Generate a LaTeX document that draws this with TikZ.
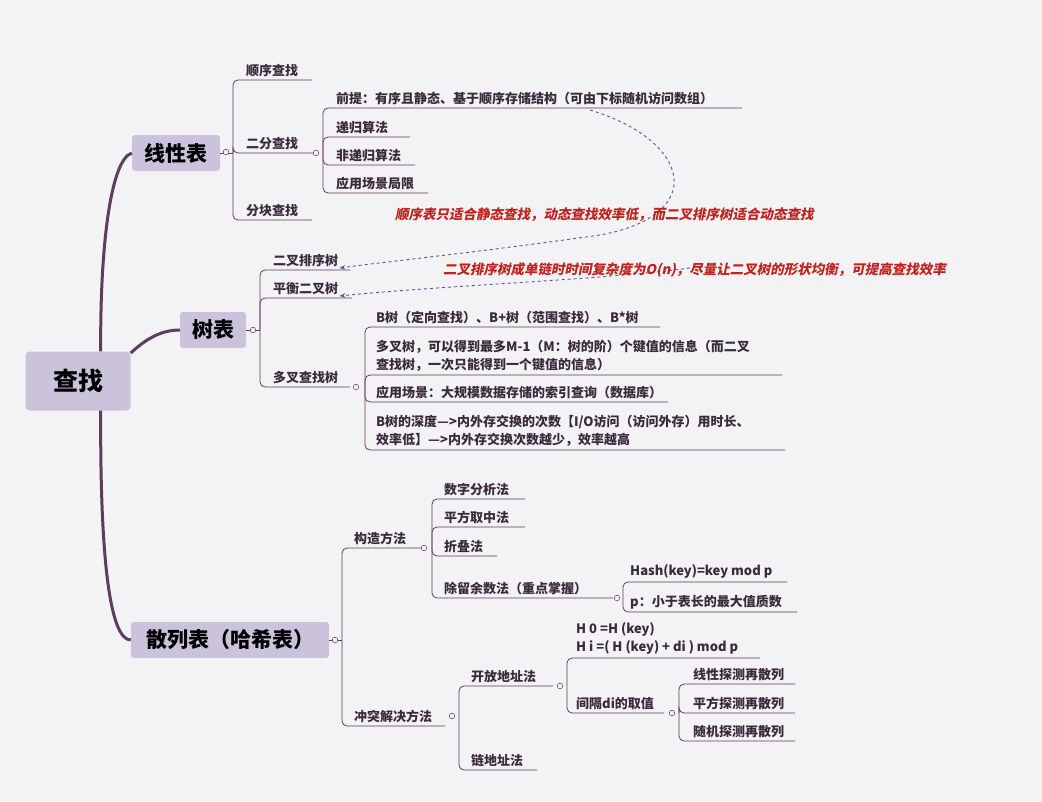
\documentclass[tikz,border=0pt]{standalone}
\usepackage{fontspec}
\setmainfont{Noto Sans CJK SC}
\newfontfamily\notefont{Noto Sans CJK SC}[FakeSlant=0.2]
\usetikzlibrary{arrows.meta}
\definecolor{bg}{HTML}{F3F2F4}
\definecolor{linec}{HTML}{5E3B60}
\definecolor{boxc}{HTML}{CBC3DC}
\definecolor{txt}{HTML}{3A2B3C}
\definecolor{notec}{HTML}{C0221F}
\definecolor{dashc}{HTML}{5A5799}
\tikzset{
  branch/.style={draw=linec, line width=0.8pt, rounded corners=5pt},
  trunk/.style={draw=linec, line width=3pt},
  leaf/.style={anchor=south west, inner sep=1pt, text=txt, font=\bfseries\fontsize{13}{18}\selectfont, align=left},
  topic/.style={fill=boxc, rounded corners=3pt, text=black, font=\bfseries\fontsize{21}{24}\selectfont, inner sep=5pt, minimum height=36pt},
  knob/.style={circle, draw=linec, fill=bg, line width=0.5pt, inner sep=2pt},
  note/.style={anchor=west, text=notec, font=\notefont\bfseries\fontsize{13.5}{15}\selectfont, inner sep=0},
  link/.style={draw=dashc, line width=0.9pt, dashed, -{Stealth[length=6pt]}}
}
% draw one child: bracket x, parent y, child underline y, underline end
\newcommand\kid[4]{\draw[branch] (#1,#2) |- (#4,#3);}
\begin{document}
\begin{tikzpicture}[x=1pt,y=-1pt]
\fill[bg] (0,0) rectangle (1042,801);
\useasboundingbox (0,0) rectangle (1042,801);

% root and main topics
\node[fill=boxc, rounded corners=4pt, minimum width=105pt, minimum height=59pt,
  font=\bfseries\fontsize{25}{28}\selectfont] (root) at (78,381) {查找};
\node[topic, minimum width=88pt] (linear) at (176,153) {线性表};
\node[topic, minimum width=66pt] (tree) at (213,330) {树表};
\node[topic, minimum width=198pt] (hash) at (230,640) {散列表（哈希表）};
\draw[trunk] (root.north east) ++(-30,0) .. controls (100,250) and (110,160) .. (linear.west);
\draw[trunk] (root.east) ++(0,-28) .. controls (145,340) and (160,330) .. (tree.west);
\draw[trunk] (root.south east) ++(-30,0) .. controls (100,560) and (110,640) .. (hash.west);

% linear table
\draw[branch] (linear.east) -- (233,153);
\kid{233}{153}{80}{312}
\kid{233}{153}{153}{316}
\kid{233}{153}{220}{312}
\node[knob] at (226,152) {};
\node[leaf] (seq) at (245,78) {顺序查找};
\node[leaf] (bin) at (245,151) {二分查找};
\node[leaf] (blk) at (245,218) {分块查找};
\foreach \y/\e/\t in {108/742/前提：有序且静态、基于顺序存储结构（可由下标随机访问数组）,
  137/410/递归算法, 165/415/非递归算法, 193/428/应用场景局限} {
  \kid{323}{153}{\y}{\e}
  \node[leaf] at (335,\y-2) {\t};
}
\node[knob] at (316,153) {};
\coordinate (pre) at (590,110);

% tree table
\draw[branch] (tree.east) -- (260,330);
\kid{260}{330}{270}{350}
\kid{260}{330}{298}{352}
\kid{260}{330}{387}{350}
\node[knob] at (253,330) {};
\node[leaf] (bst) at (272,268) {二叉排序树};
\node[leaf] (avl) at (272,296) {平衡二叉树};
\node[leaf] (multi) at (272,385) {多叉查找树};
\foreach \y/\e/\t in {327/660/B树（定向查找）、B+树（范围查找）、B*树,
  375/782/{多叉树，可以得到最多M-1（M：树的阶）个键值的信息（而二叉\\查找树，一次只能得到一个键值的信息）},
  402/668/应用场景：大规模数据存储的索引查询（数据库）,
  450/785/{B树的深度—>内外存交换的次数【I/O访问（访问外存）用时长、\\效率低】—>内外存交换次数越少，效率越高}} {
  \kid{365}{387}{\y}{\e}
  \node[leaf] at (375,\y-2) {\t};
}
\node[knob] at (356,387) {};

% dashed notes
\draw[link] (pre) .. controls (690,140) and (710,215) .. (600,235)
  .. controls (480,252) and (400,260) .. (bst.south east);
\node[note] at (395,215) {顺序表只适合静态查找，动态查找效率低，而二叉排序树适合动态查找};
\draw[link] (690,268) .. controls (600,280) and (450,285) .. (avl.south east);
\node[note] at (443,270) {二叉排序树成单链时时间复杂度为O(n)，尽量让二叉树的形状均衡，可提高查找效率};

% hash table
\draw[branch] (hash.east) -- (342,640);
\kid{342}{640}{548}{424}
\kid{342}{640}{726}{445}
\node[knob] at (335,640) {};
\node[leaf] (make) at (353,546) {构造方法};
\node[leaf] (solve) at (353,724) {冲突解决方法};
\foreach \y/\e/\t in {499/525/数字分析法, 527/525/平方取中法, 556/497/折叠法, 598/613/除留余数法（重点掌握）} {
  \kid{432}{548}{\y}{\e}
  \node[leaf] at (443,\y-2) {\t};
}
\node[knob] at (424,548) {};
\foreach \y/\e/\t in {582/787/Hash(key)=key mod p, 612/797/p：小于表长的最大值质数} {
  \kid{623}{598}{\y}{\e}
  \node[leaf] at (629,\y-2) {\t};
}
\node[knob] at (617,598) {};
\kid{459}{726}{686}{553}
\kid{459}{726}{770}{537}
\node[leaf] (open) at (470,684) {开放地址法};
\node[leaf] (chain) at (470,768) {链地址法};
\node[knob] at (452,716) {};
\kid{567}{686}{658}{760}
\kid{567}{686}{713}{664}
\node[leaf] at (575,656) {H 0 =H (key)\\H i =( H (key) + di ) mod p};
\node[leaf] (gap) at (575,711) {间隔di的取值};
\node[knob] at (560,686) {};
\foreach \y/\t in {684/线性探测再散列, 713/平方探测再散列, 741/随机探测再散列} {
  \kid{679}{713}{\y}{795}
  \node[leaf] at (692,\y-2) {\t};
}
\node[knob] at (672,713) {};
\end{tikzpicture}
\end{document}
